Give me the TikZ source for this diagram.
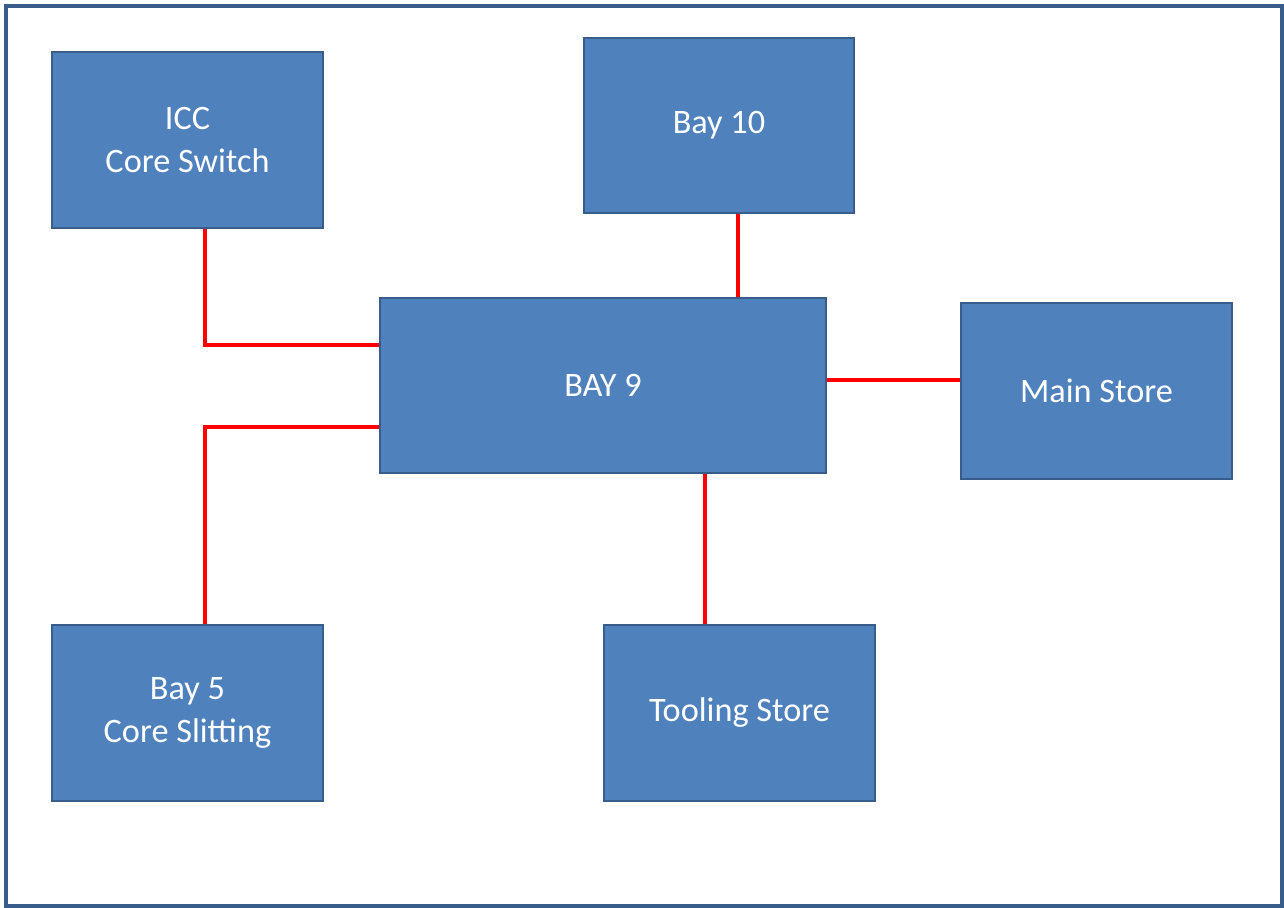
\documentclass[tikz,border=0pt]{standalone}
\usepackage{fontspec}
\setmainfont{Carlito}
\usepackage{tikz}
\usetikzlibrary{positioning, calc}
\definecolor{cFill}{RGB}{79,129,189}
\definecolor{cEdge}{RGB}{56,93,138}

\begin{document}
\begin{tikzpicture}[
    unit/.style={draw=cEdge, line width=1.2pt, fill=cFill, text=white, align=center,
        minimum width=5.42cm, minimum height=3.52cm, inner sep=0pt,
        font=\fontsize{19.5}{24}\selectfont},
    link/.style={draw=red, line width=2.3pt}
]

    % Frame
    \useasboundingbox (0,0) rectangle (25.68,-18.16);
    \draw[cEdge, line width=2.3pt] (0.12,-0.12) rectangle (25.64,-18.12);

    % --- Sites ---
    \node[unit] (icc) at (3.75,-2.8) {ICC\\Core Switch};
    \node[unit, minimum width=5.4cm, minimum height=3.5cm] (bay10) at (14.38,-2.51) {Bay 10};
    \node[unit, minimum width=8.92cm, minimum height=3.5cm] (bay9) at (12.06,-7.71) {BAY 9};
    \node[unit] (store) at (21.93,-7.82) {Main Store};
    \node[unit] (bay5) at (3.75,-14.26) {Bay 5\\Core Slitting};
    \node[unit] (tool) at (14.79,-14.26) {Tooling Store};

    % --- Links to BAY 9 ---
    \draw[link] ([xshift=0.35cm]icc.south) |- ([yshift=0.81cm]bay9.west);
    \draw[link] ([yshift=-0.83cm]bay9.west) -| ([xshift=0.35cm]bay5.north);
    \draw[link] ([xshift=0.38cm]bay10.south) -- ([xshift=0.38cm]bay10.south |- bay9.north);
    \draw[link] ([yshift=0.11cm]bay9.east) -- ([yshift=0.11cm]bay9.east -| store.west);
    \draw[link] ([xshift=2.04cm]bay9.south) -- ([xshift=2.04cm]bay9.south |- tool.north);

\end{tikzpicture}
\end{document}
